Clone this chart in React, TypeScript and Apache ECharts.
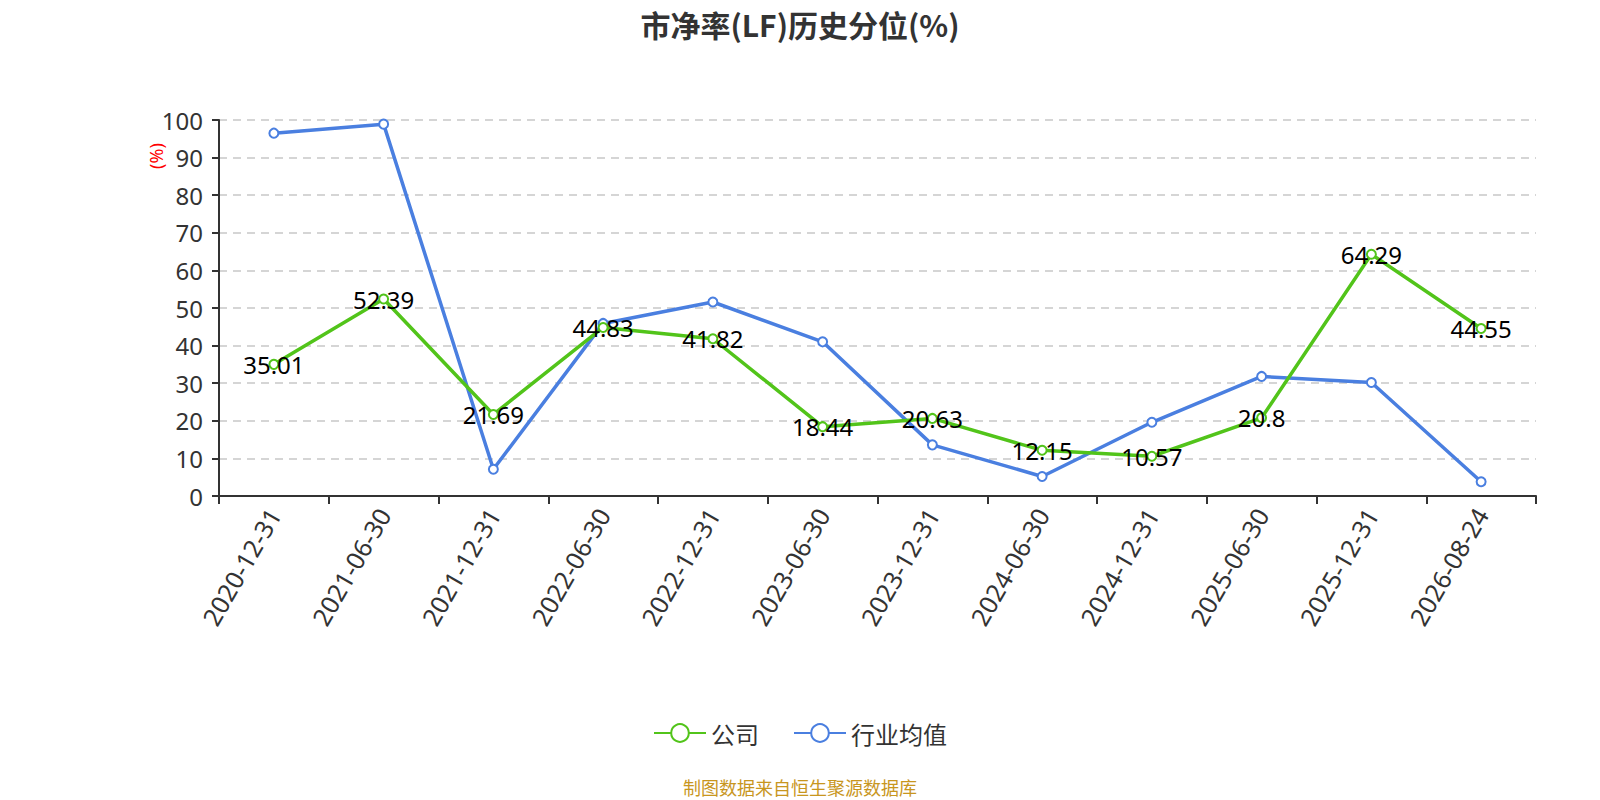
import React, { useEffect, useRef } from "react";
import * as echarts from "echarts";

const categories = [
  "2020-12-31", "2021-06-30", "2021-12-31", "2022-06-30", "2022-12-31", "2023-06-30",
  "2023-12-31", "2024-06-30", "2024-12-31", "2025-06-30", "2025-12-31", "2026-08-24",
];
const companyValues = [35.01, 52.39, 21.69, 44.83, 41.82, 18.44, 20.63, 12.15, 10.57, 20.8, 64.29, 44.55];
const industryValues = [96.5, 98.9, 7.1, 45.9, 51.6, 41.0, 13.6, 5.2, 19.6, 31.8, 30.2, 3.8];

const FONT = "'Noto Sans', 'Noto Sans CJK SC', sans-serif";
const CJK = "'Noto Sans CJK SC', 'Noto Sans', sans-serif";

export default function App() {
  const ref = useRef<HTMLDivElement>(null);
  useEffect(() => {
    document.body.style.margin = "0";
    const chart = echarts.init(ref.current!, null, { renderer: "svg" });
    chart.setOption({
      animation: false,
      textStyle: { fontFamily: FONT },
      title: {
        text: "市净率(LF)历史分位(%)",
        left: "center",
        top: 4,
        textStyle: { fontSize: 30, fontWeight: "bold", color: "#333", fontFamily: CJK },
      },
      grid: { left: 219, right: 64, top: 120, bottom: 304 },
      legend: {
        bottom: 50,
        left: "center",
        itemWidth: 52,
        itemHeight: 22,
        itemGap: 34,
        textStyle: { fontSize: 24, color: "#333", fontFamily: CJK },
        data: ["公司", "行业均值"],
      },
      graphic: [
        {
          type: "text",
          left: "center",
          top: 778,
          style: { text: "制图数据来自恒生聚源数据库", fill: "#c8961e", fontSize: 18, fontFamily: CJK },
        },
        {
          type: "text",
          x: 156,
          y: 156,
          rotation: Math.PI / 2,
          style: {
            text: "(%)",
            fill: "#ff0000",
            fontSize: 18,
            fontFamily: FONT,
            align: "center",
            verticalAlign: "middle",
          },
        },
      ],
      xAxis: {
        type: "category",
        data: categories,
        boundaryGap: true,
        axisLine: { lineStyle: { color: "#333", width: 2 } },
        axisTick: { show: true, length: 8, lineStyle: { color: "#333", width: 2 } },
        axisLabel: { rotate: 60, fontSize: 25, color: "#333", margin: 14, interval: 0, fontFamily: FONT },
      },
      yAxis: {
        type: "value",
        min: 0,
        max: 100,
        interval: 10,
        axisLine: { show: true, lineStyle: { color: "#333", width: 2 } },
        axisTick: { show: true, length: 7, lineStyle: { color: "#333", width: 2 } },
        axisLabel: { fontSize: 24, color: "#333", margin: 16, fontFamily: FONT },
        splitLine: { lineStyle: { type: [8, 6], color: "#c8c8c8", width: 1.5 } },
      },
      series: [
        {
          name: "公司",
          type: "line",
          data: companyValues,
          symbol: "emptyCircle",
          symbolSize: 9,
          color: "#52c41a",
          lineStyle: { width: 3.5, color: "#52c41a" },
          itemStyle: { borderWidth: 2 },
          label: {
            show: true,
            position: "inside",
            fontSize: 24,
            color: "#000",
            fontFamily: FONT,
          },
          z: 3,
        },
        {
          name: "行业均值",
          type: "line",
          data: industryValues,
          symbol: "emptyCircle",
          symbolSize: 9,
          color: "#4a7fe0",
          lineStyle: { width: 3.5, color: "#4a7fe0" },
          itemStyle: { borderWidth: 2 },
          z: 2,
        },
      ],
    });
    return () => chart.dispose();
  }, []);
  return <div ref={ref} style={{ width: 1600, height: 800 }} />;
}
